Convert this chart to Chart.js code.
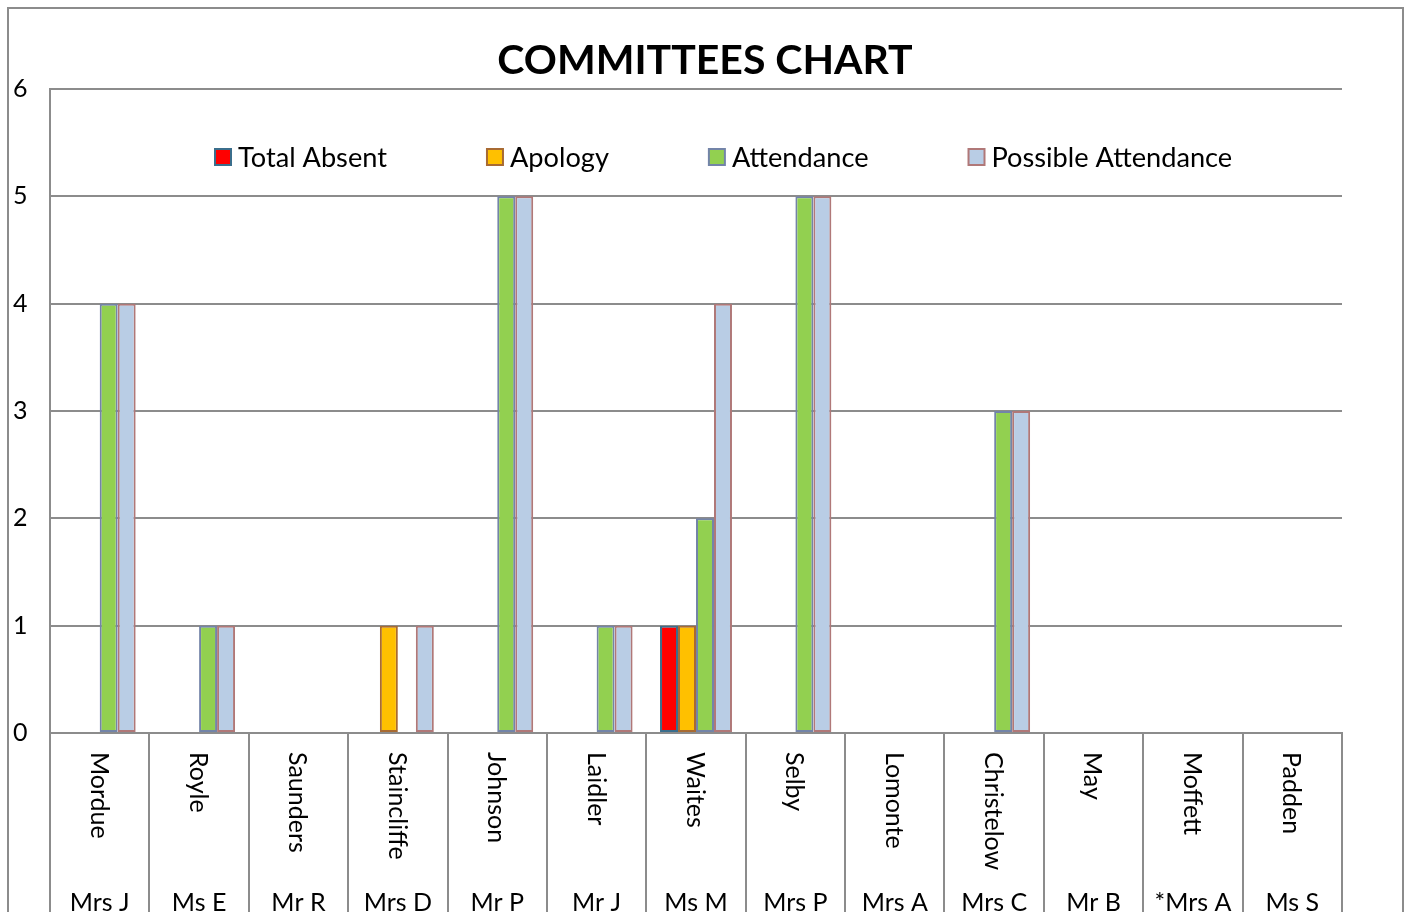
<!DOCTYPE html>
<html><head><meta charset="utf-8">
<script src="https://cdn.jsdelivr.net/npm/chart.js@4"></script>
<style>html,body{margin:0;padding:0;background:#fff;overflow:hidden}canvas{display:block}</style>
</head><body>
<canvas id="c" width="1410" height="912"></canvas>
<script>
const surnames = ["Mordue","Royle","Saunders","Staincliffe","Johnson","Laidler","Waites","Selby","Lomonte","Christelow","May","Moffett","Padden"];
const firstNames = ["Mrs J","Ms E","Mr R","Mrs D","Mr P","Mr J","Ms M","Mrs P","Mrs A","Mrs C","Mr B","*Mrs A","Ms S"];
const totalAbsent = [0,0,0,0,0,0,1,0,0,0,0,0,0];
const apology = [0,0,0,1,0,0,1,0,0,0,0,0,0];
const attendance = [4,1,0,0,5,1,2,5,0,3,0,0,0];
const possibleAttendance = [4,1,0,1,5,1,4,5,0,3,0,0,0];
const yTicks = [0,1,2,3,4,5,6];
const seriesNames = ["Total Absent","Apology","Attendance","Possible Attendance"];
const chartTitle = "COMMITTEES CHART";

const FONT = "Lato, 'Open Sans', sans-serif";
const GRID = "#8c8c8c";

const frame = {
  id: 'frame',
  beforeDraw(chart){
    const ctx = chart.ctx;
    ctx.save();
    ctx.fillStyle = '#fff';
    ctx.fillRect(0,0,chart.width,chart.height);
    ctx.strokeStyle = GRID; ctx.lineWidth = 2;
    ctx.strokeRect(8, 8, 1395, 1000);
    ctx.restore();
  },
  afterDraw(chart){
    const ctx = chart.ctx;
    ctx.save();
    ctx.fillStyle = '#000';
    ctx.font = "bold 41px " + FONT;
    ctx.textAlign = 'center'; ctx.textBaseline = 'alphabetic';
    ctx.fillText(chartTitle, chart.width / 2, 74);
    ctx.restore();
  }
};

const floatLegend = {
  id: 'floatLegend',
  afterDraw(chart){
    const ctx = chart.ctx;
    ctx.save();
    ctx.font = "27.2px " + FONT;
    ctx.textBaseline = 'middle';
    ctx.textAlign = 'left';
    let x = 215; const y = 157;
    chart.data.datasets.forEach(ds => {
      ctx.fillStyle = ds.backgroundColor;
      ctx.fillRect(x, y-8, 16, 16);
      ctx.strokeStyle = ds.borderColor; ctx.lineWidth = 2;
      ctx.strokeRect(x, y-8, 16, 16);
      ctx.fillStyle = '#000';
      ctx.fillText(ds.label, x + 23, y + 1);
      x += 23 + ctx.measureText(ds.label).width + 100;
    });
    ctx.restore();
  }
};

const xLabels = {
  id: 'xLabels',
  afterDraw(chart){
    const ctx = chart.ctx, xs = chart.scales.x, base = chart.chartArea.bottom;
    ctx.save();
    ctx.fillStyle = '#000';
    ctx.font = "25px " + FONT;
    chart.data.labels.forEach((lab, i) => {
      const x = xs.getPixelForValue(i);
      ctx.save();
      ctx.translate(x - 1, base + 19);
      ctx.rotate(Math.PI/2);
      ctx.textAlign = 'left'; ctx.textBaseline = 'middle';
      ctx.fillText(lab[0], 0, 0);
      ctx.restore();
      ctx.textAlign = 'center'; ctx.textBaseline = 'alphabetic';
      ctx.fillText(lab[1], x, 911);
    });
    ctx.restore();
  }
};

new Chart(document.getElementById('c'), {
  type: 'bar',
  data: {
    labels: surnames.map((s, i) => [s, firstNames[i]]),
    datasets: [
      {label: seriesNames[0], data: totalAbsent, backgroundColor: '#FF0000', borderColor: '#3b6e8c'},
      {label: seriesNames[1], data: apology, backgroundColor: '#FFC000', borderColor: '#a86a32'},
      {label: seriesNames[2], data: attendance, backgroundColor: '#92D050', borderColor: '#7384a8'},
      {label: seriesNames[3], data: possibleAttendance, backgroundColor: '#B9CDE5', borderColor: '#b07878'}
    ].map(d => Object.assign(d, {borderWidth: 2, borderSkipped: false, categoryPercentage: 0.724, barPercentage: 1}))
  },
  plugins: [frame, floatLegend, xLabels],
  options: {
    responsive: false,
    animation: false,
    devicePixelRatio: 1,
    layout: {padding: {left: 13, right: 68, top: 89, bottom: 0}},
    plugins: {
      legend: {display: false},
      tooltip: {enabled: false},
      title: {display: false}
    },
    scales: {
      x: {
        grid: {offset: true, drawOnChartArea: false, drawTicks: true, tickLength: 179, color: GRID, lineWidth: 2},
        border: {display: true, color: GRID, width: 2},
        ticks: {display: false},
        afterFit(s){ s.height = 179; }
      },
      y: {
        min: yTicks[0], max: yTicks[yTicks.length-1],
        afterBuildTicks(s){ s.ticks = yTicks.map(v => ({value: v})); },
        grid: {color: GRID, lineWidth: 2, drawTicks: false},
        border: {display: true, color: GRID, width: 2},
        ticks: {color: '#000', font: {family: FONT, size: 25}, crossAlign: 'far', padding: 0},
        afterFit(s){ s.width = 37; }
      }
    }
  }
});
</script>
</body></html>
